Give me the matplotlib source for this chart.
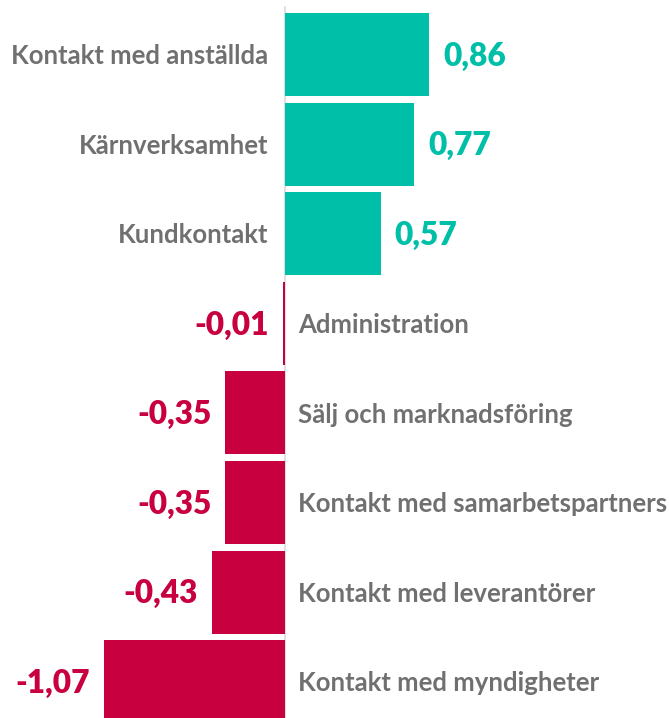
import matplotlib
matplotlib.use("Agg")
import matplotlib.pyplot as plt

categories = ["Kontakt med anställda", "Kärnverksamhet", "Kundkontakt", "Administration",
              "Sälj och marknadsföring", "Kontakt med samarbetspartners",
              "Kontakt med leverantörer", "Kontakt med myndigheter"]
values = [0.86, 0.77, 0.57, -0.01, -0.35, -0.35, -0.43, -1.07]

POS = "#00bfa8"
NEG = "#c8003f"
LABEL = "#707070"

W, H = 669, 718
fig = plt.figure(figsize=(W / 100, H / 100), dpi=100)
ax = fig.add_axes([0, 0, 1, 1])
ax.set_axis_off()

zero_px = 284.5
scale = 168.6
ax.set_xlim(-zero_px / scale, (W - zero_px) / scale)
pitch = 89.6
c0 = 54.5
ax.set_ylim((H - c0) / pitch, -c0 / pitch)

ys = list(range(len(categories)))
colors = [POS if v >= 0 else NEG for v in values]
ax.barh(ys, values, height=0.926, color=colors, zorder=2)
ax.axvline(0, ymin=0, ymax=1 - 7 / H, color="#dcdcdc", lw=1.2, zorder=1)

pad = 14 / scale
font = "Lato"
for y, v, c, cat in zip(ys, values, colors, categories):
    txt = f"{v:.2f}".replace(".", ",")
    if v >= 0:
        ax.text(v + pad, y + 0.02, txt, color=c, ha="left", va="center", fontsize=22.8,
                fontweight="heavy", family=font)
        ax.text(-16 / scale, y + 0.02, cat, color=LABEL, ha="right", va="center",
                fontsize=18.5, fontweight="bold", family=font)
    else:
        ax.text(v - pad, y + 0.02, txt, color=c, ha="right", va="center", fontsize=22.8,
                fontweight="heavy", family=font)
        ax.text(pad, y + 0.02, cat, color=LABEL, ha="left", va="center",
                fontsize=18.5, fontweight="bold", family=font)

fig.savefig("out.png", dpi=100)
